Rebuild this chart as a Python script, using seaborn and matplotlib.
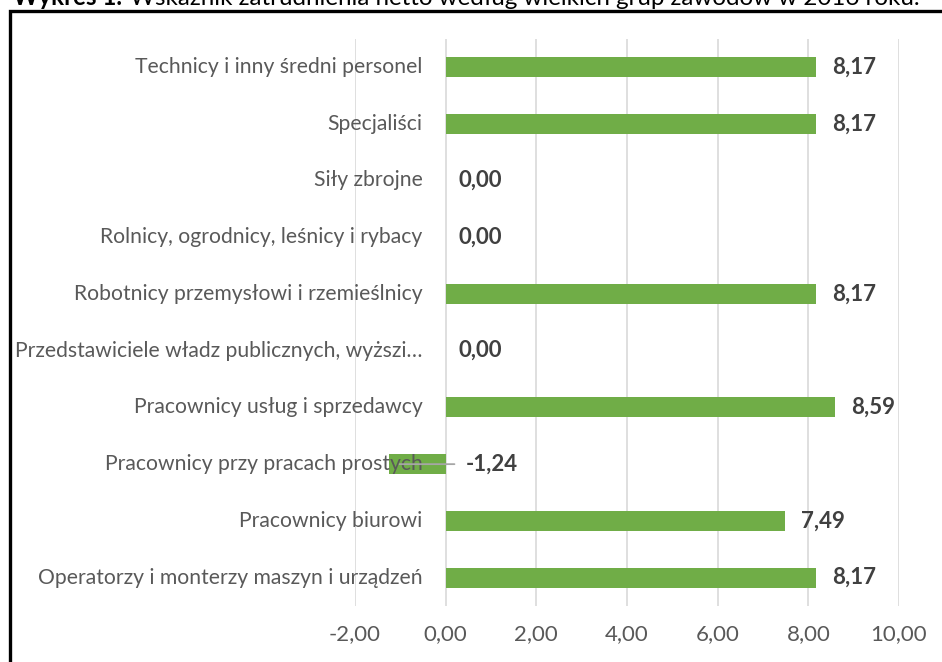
import pandas as pd
import seaborn as sns
import matplotlib
matplotlib.use("Agg")
import matplotlib.pyplot as plt
from matplotlib.patches import Rectangle

sns.set_theme(style="white")
plt.rcParams['font.family'] = ['Lato', 'DejaVu Sans']

categories = [
    "Technicy i inny średni personel",
    "Specjaliści",
    "Siły zbrojne",
    "Rolnicy, ogrodnicy, leśnicy i rybacy",
    "Robotnicy przemysłowi i rzemieślnicy",
    "Przedstawiciele władz publicznych, wyższi…",
    "Pracownicy usług i sprzedawcy",
    "Pracownicy przy pracach prostych",
    "Pracownicy biurowi",
    "Operatorzy i monterzy maszyn i urządzeń",
]
values = [8.17, 8.17, 0.00, 0.00, 8.17, 0.00, 8.59, -1.24, 7.49, 8.17]
xticks = [-2, 0, 2, 4, 6, 8, 10]
title_bold = "Wykres 1."
title_rest = "Wskaźnik zatrudnienia netto według wielkich grup zawodów w 2016 roku."

df = pd.DataFrame({"grupa": categories, "wskaznik": values})

W, H = 942, 662
fig = plt.figure(figsize=(W / 100, H / 100), dpi=100)
ax = fig.add_axes([355 / W, 1 - 606 / H, 544 / W, (606 - 38.6) / H])

sns.barplot(data=df, x="wskaznik", y="grupa", orient="h", color="#70AD47",
            saturation=1, width=0.35, linewidth=0, ax=ax, zorder=3)

ax.set_xlim(-2, 10)
ax.set_xticks(xticks)
ax.set_xticklabels(["{:.2f}".format(t).replace(".", ",") for t in xticks],
                   color="#595959", fontsize=16)
ax.tick_params(axis="x", length=0, pad=13)
ax.set_yticks(range(len(categories)))
ax.set_yticklabels([])
ax.tick_params(axis="y", length=0)
ax.set_xlabel("")
ax.set_ylabel("")
ax.grid(axis="x", color="#d9d9d9", linewidth=1.2, zorder=0)
for s in ax.spines.values():
    s.set_visible(False)

# category labels sit next to the zero axis
for i, name in enumerate(categories):
    ax.annotate(name, xy=(0, i), xytext=(-23, 0), textcoords="offset pixels",
                ha="right", va="center", fontsize=15.2, color="#595959", zorder=5)

# value labels
for i, v in enumerate(values):
    txt = "{:.2f}".format(v).replace(".", ",")
    if v < 0:
        ax.annotate(txt, xy=(v * 0.82, i), xytext=(0.45, i), textcoords="data",
                    ha="left", va="center", fontsize=16, fontweight="bold",
                    color="#404040", zorder=5,
                    arrowprops=dict(arrowstyle="-", color="#a6a6a6", lw=1.3,
                                    shrinkA=6, shrinkB=0))
    else:
        off = 16 if v > 0 else 13
        ax.annotate(txt, xy=(v, i), xytext=(off, 0), textcoords="offset pixels",
                    ha="left", va="center", fontsize=16, fontweight="bold",
                    color="#404040", zorder=5)

# frame around the chart, running off the right and bottom edges
fig.patches.append(Rectangle((10 / W, -0.1), 1.2, 1 - 10.5 / H + 0.1,
                             transform=fig.transFigure, fill=False,
                             edgecolor="black", linewidth=2.4))

# title, cut off at the top of the picture; sized to span 13..925 px
ty = 1 - 5 / H
fs = 17.4
t1 = fig.text(13 / W, ty, title_bold, ha="left", va="baseline",
              fontsize=fs, fontweight="bold", color="black")
fig.canvas.draw()
r = fig.canvas.get_renderer()
x1 = t1.get_window_extent(r).x1
fig.text((x1 + 8) / W, ty, title_rest, ha="left", va="baseline",
         fontsize=fs, color="black")

fig.savefig("out.png", dpi=100)
